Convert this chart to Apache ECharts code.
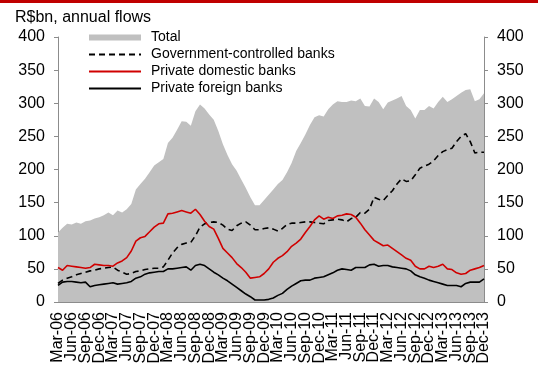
<!DOCTYPE html>
<html>
<head>
<meta charset="utf-8">
<script src="https://cdn.jsdelivr.net/npm/echarts@6/dist/echarts.min.js"></script>
<style>
html,body{margin:0;padding:0;background:#fff;}
#bar{position:absolute;left:0;top:0;width:538px;height:3px;background:#c00000;}
#c{width:538px;height:371px;}
</style>
</head>
<body>
<div id="c"></div>
<div id="bar"></div>
<script>
const monthNames = ['Jan','Feb','Mar','Apr','May','Jun','Jul','Aug','Sep','Oct','Nov','Dec'];
const categories = [];
for (let y = 2006; y <= 2013; y++) {
  for (let m = 0; m < 12; m++) {
    if (y === 2006 && m < 2) continue;
    categories.push(monthNames[m] + '-' + String(y).slice(2));
  }
}
const yTicks = [0, 50, 100, 150, 200, 250, 300, 350, 400];

const total = [105,112,118,117,120,118,122,123,126,128,131,135,131,138,135,140,148,170,178,186,
  196,206,211,216,240,248,260,273,272,266,288,298,292,283,275,258,238,222,208,198,
  185,172,158,146,146,154,162,170,178,184,196,210,228,240,253,267,279,282,280,291,
  298,303,302,302,304,303,307,296,295,307,302,291,301,304,307,311,296,290,277,290,
  290,296,292,302,310,302,306,311,316,320,321,303,306,315];
const government = [28,33,36,38,41,43,45,47,48,50,51,52,53,48,45,42,43,46,47,49,
  50,51,51,53,63,74,82,87,89,90,100,113,118,120,121,120,116,110,108,115,
  119,121,116,109,109,111,112,110,107,111,117,119,119,120,121,121,120,119,118,123,
  124,125,124,121,126,128,135,134,140,158,155,153,161,168,178,186,182,183,192,202,
  205,208,213,221,227,230,232,242,250,254,242,225,226,226];
const privateDomestic = [52,48,55,54,53,52,51,52,57,56,55,55,54,59,62,67,77,92,97,99,
  106,113,118,119,133,134,136,138,136,134,140,132,122,114,110,96,81,74,67,58,
  52,45,36,37,38,43,50,60,66,70,76,84,89,95,105,114,124,130,125,128,
  126,130,131,133,132,128,119,109,101,93,89,85,86,81,76,71,66,63,54,50,
  50,54,52,54,57,50,49,44,42,43,48,50,52,55];
const privateForeign = [25,30,31,31,30,29,30,23,25,26,27,28,29,27,28,29,31,36,38,42,
  44,45,46,46,50,50,51,52,53,48,55,57,55,50,45,41,36,32,27,22,
  17,12,8,3,3,3,4,6,10,13,19,24,28,32,33,33,36,37,38,41,
  44,48,50,49,48,52,52,52,56,57,54,55,55,53,52,51,50,47,41,38,
  36,33,31,29,27,25,25,25,23,28,30,30,30,35];

const font = 'Liberation Sans, Arial, sans-serif';
const axisGray = '#8c8c8c';

const yAxisBase = {
  type: 'value', min: 0, max: 400, interval: 50,
  axisLine: { show: true, lineStyle: { color: axisGray, width: 1 } },
  axisTick: { show: true, length: 4, lineStyle: { color: axisGray } },
  splitLine: { show: false },
  axisLabel: { color: '#000', fontSize: 16, fontFamily: font, margin: 13,
    showMinLabel: true, showMaxLabel: true,
    formatter: v => yTicks.includes(v) ? String(v) : '' }
};

const hiddenDot = { opacity: 0 };

const chart = echarts.init(document.getElementById('c'), null, { renderer: 'canvas' });
chart.setOption({
  animation: false,
  backgroundColor: '#fff',
  title: {
    text: 'R$bn, annual flows', left: 15, top: 10, padding: 0,
    textStyle: { fontSize: 16, fontWeight: 'normal', color: '#000', fontFamily: font }
  },
  legend: {
    orient: 'vertical', left: 83, top: 25, itemWidth: 52, itemHeight: 6, itemGap: 2,
    textStyle: { fontSize: 14, color: '#000', fontFamily: font, padding: [0, 0, 0, 5], lineHeight: 15 },
    data: [
      { name: 'Total', icon: 'rect' },
      { name: 'Government-controlled banks', itemStyle: hiddenDot },
      { name: 'Private domestic banks', itemStyle: hiddenDot },
      { name: 'Private foreign banks', itemStyle: hiddenDot }
    ]
  },
  grid: { left: 58, right: 54, top: 37, bottom: 69, containLabel: false },
  xAxis: {
    type: 'category', data: categories, boundaryGap: false,
    axisLine: { show: true, lineStyle: { color: axisGray } },
    axisTick: { show: false },
    axisLabel: { rotate: 90, interval: 0, color: '#000', fontSize: 16, fontFamily: font, margin: 10,
      hideOverlap: false,
      formatter: (value, index) => index % 3 === 0 ? value : '' },
    splitLine: { show: false }
  },
  yAxis: [
    Object.assign({}, yAxisBase, { position: 'left' }),
    Object.assign({}, yAxisBase, { position: 'right' })
  ],
  series: [
    { name: 'Total', type: 'line', data: total, symbol: 'none', z: 1,
      lineStyle: { width: 0, color: '#c0c0c0' }, itemStyle: { color: '#c0c0c0' },
      areaStyle: { color: '#c0c0c0', opacity: 1 } },
    { name: 'Government-controlled banks', type: 'line', data: government, symbol: 'none', z: 3,
      lineStyle: { width: 1.6, color: '#000', type: [6, 4] }, itemStyle: { color: '#000' } },
    { name: 'Private domestic banks', type: 'line', data: privateDomestic, symbol: 'none', z: 3,
      lineStyle: { width: 1.6, color: '#d00000' }, itemStyle: { color: '#d00000' } },
    { name: 'Private foreign banks', type: 'line', data: privateForeign, symbol: 'none', z: 3,
      lineStyle: { width: 1.6, color: '#000' }, itemStyle: { color: '#000' } }
  ]
});
</script>
</body>
</html>
